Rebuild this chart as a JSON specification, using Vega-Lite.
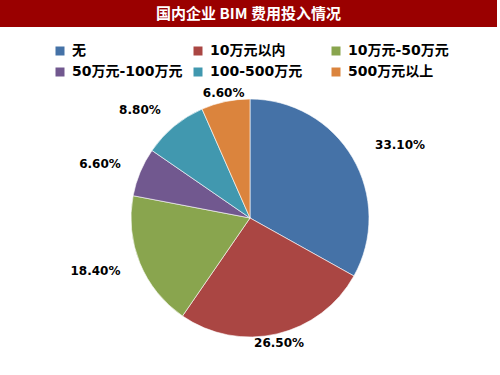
{
  "$schema": "https://vega.github.io/schema/vega-lite/v6.json",
  "padding": 0,
  "spacing": 34,
  "bounds": "flush",
  "background": "white",
  "config": {"view": {"stroke": null}},
  "resolve": {"scale": {"color": "independent"}, "legend": {"color": "independent"}},
  "vconcat": [
    {
      "width": 497,
      "height": 27,
      "data": {"values": [{"title": "国内企业 BIM 费用投入情况"}]},
      "view": {"fill": "#9A0000", "stroke": null},
      "mark": {"type": "text", "color": "white", "fontSize": 15, "fontWeight": "bold", "font": "Noto Sans CJK SC", "baseline": "middle", "align": "center"},
      "encoding": {"text": {"field": "title", "type": "nominal"}}
    },
    {
      "width": 500,
      "height": 314,
      "data": {
        "values": [
          {"cat": "无", "share": 0.331, "rank": 1},
          {"cat": "10万元以内", "share": 0.265, "rank": 2},
          {"cat": "10万元-50万元", "share": 0.184, "rank": 3},
          {"cat": "50万元-100万元", "share": 0.066, "rank": 4},
          {"cat": "100-500万元", "share": 0.088, "rank": 5},
          {"cat": "500万元以上", "share": 0.066, "rank": 6}
        ]
      },
      "encoding": {
        "theta": {"field": "share", "type": "quantitative", "stack": true},
        "order": {"field": "rank", "type": "quantitative"}
      },
      "layer": [
        {
          "mark": {"type": "arc", "radius": 119, "stroke": "#ffffff", "strokeWidth": 0.6},
          "encoding": {
            "color": {
              "field": "cat",
              "type": "nominal",
              "scale": {
                "domain": ["无", "10万元以内", "10万元-50万元", "50万元-100万元", "100-500万元", "500万元以上"],
                "range": ["#4572A7", "#AA4643", "#89A54E", "#71588F", "#4198AF", "#DB843D"]
              },
              "legend": {
                "orient": "none",
                "direction": "horizontal",
                "legendX": 53,
                "legendY": -17,
                "columns": 3,
                "gridAlign": "all",
                "title": null,
                "symbolType": "square",
                "symbolSize": 81,
                "symbolStrokeWidth": 0,
                "labelFontSize": 14,
                "labelFontWeight": "bold",
                "labelFont": "DejaVu Sans, Noto Sans CJK SC",
                "labelColor": "#000000",
                "labelOffset": 5,
                "labelLimit": 250,
                "columnPadding": 8,
                "rowPadding": 7,
                "padding": 0
              }
            }
          }
        },
        {
          "mark": {"type": "text", "radius": 145, "align": "left", "baseline": "middle", "font": "DejaVu Sans", "fontSize": 12, "fontWeight": "bold", "color": "#000000"},
          "encoding": {
            "text": {"condition": {"test": "datum.cat === '无'", "field": "share", "type": "quantitative", "format": ".2%"}, "value": ""}
          }
        },
        {
          "mark": {"type": "text", "radius": 140, "align": "right", "baseline": "middle", "font": "DejaVu Sans", "fontSize": 12, "fontWeight": "bold", "color": "#000000"},
          "encoding": {
            "text": {"condition": {"test": "indexof(['10万元-50万元', '50万元-100万元', '100-500万元'], datum.cat) >= 0", "field": "share", "type": "quantitative", "format": ".2%"}, "value": ""}
          }
        },
        {
          "mark": {"type": "text", "radius": 128, "align": "center", "baseline": "middle", "font": "DejaVu Sans", "fontSize": 12, "fontWeight": "bold", "color": "#000000"},
          "encoding": {
            "text": {"condition": {"test": "indexof(['10万元以内', '500万元以上'], datum.cat) >= 0", "field": "share", "type": "quantitative", "format": ".2%"}, "value": ""}
          }
        }
      ]
    }
  ]
}
